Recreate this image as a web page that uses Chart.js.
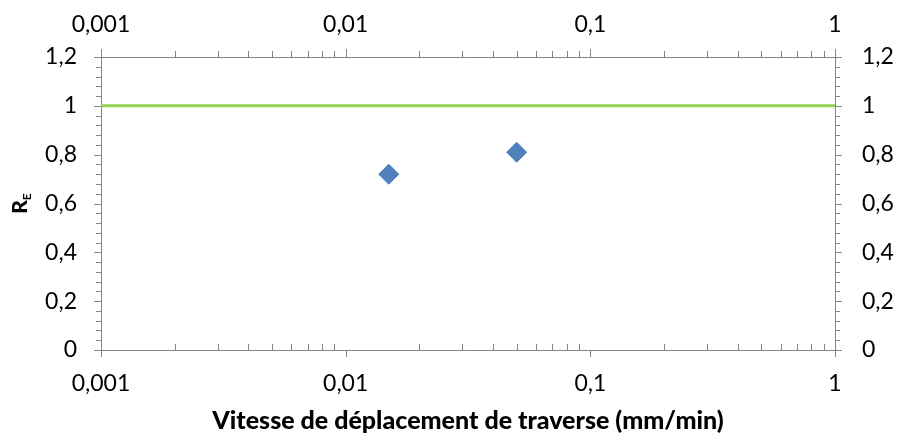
<!DOCTYPE html>
<html>
<head>
<meta charset="utf-8">
<script src="https://cdn.jsdelivr.net/npm/chart.js@4"></script>
<style>
  html, body { margin: 0; padding: 0; background: #fff; }
  #wrap { width: 898px; height: 438px; }
</style>
</head>
<body>
<div id="wrap"><canvas id="graf"></canvas></div>
<script>
// donnees
const vitesses = [0.015, 0.05];
const rapportsE = [0.72, 0.81];
const refX = [0.001, 1];
const refY = [1, 1];
const xTicks = [0.001, 0.01, 0.1, 1];
const xLabels = ["0,001", "0,01", "0,1", "1"];
const yTicks = [0, 0.2, 0.4, 0.6, 0.8, 1, 1.2];
const yLabels = ["0", "0,2", "0,4", "0,6", "0,8", "1", "1,2"];

const gris = "#868686";
const police = "Lato, 'Open Sans', sans-serif";

// petites marques des axes + titre R_E
const marques = {
  id: "marques",
  afterDraw(chart) {
    const ctx = chart.ctx;
    const a = chart.chartArea;
    const sx = chart.scales.x, sy = chart.scales.y;
    ctx.save();
    ctx.strokeStyle = gris;
    ctx.lineWidth = 1;
    ctx.beginPath();
    for (let d = 0; d < xTicks.length; d++) {
      const px = Math.round(sx.getPixelForValue(xTicks[d])) + 0.5;
      ctx.moveTo(px, a.bottom); ctx.lineTo(px, a.bottom + 7);
      ctx.moveTo(px, a.top - 8); ctx.lineTo(px, a.top);
      if (d === xTicks.length - 1) break;
      for (let k = 2; k <= 9; k++) {
        const pm = Math.round(sx.getPixelForValue(xTicks[d] * k)) + 0.5;
        ctx.moveTo(pm, a.bottom - 6); ctx.lineTo(pm, a.bottom);
        ctx.moveTo(pm, a.top - 6); ctx.lineTo(pm, a.top);
      }
    }
    for (let i = 0; i <= 30; i++) {
      const v = i * 0.04;
      const py = Math.round(sy.getPixelForValue(v)) + 0.5;
      const maj = i % 5 === 0;
      const l = maj ? 7 : 5;
      ctx.moveTo(a.left - l, py); ctx.lineTo(a.left, py);
      ctx.moveTo(a.right, py); ctx.lineTo(a.right + l, py);
    }
    ctx.stroke();

    // titre vertical R avec indice E
    ctx.fillStyle = "#000";
    ctx.translate(27, (a.top + a.bottom) / 2);
    ctx.rotate(-Math.PI / 2);
    ctx.textBaseline = "alphabetic";
    ctx.font = "900 21px " + police;
    const wR = ctx.measureText("R").width;
    ctx.font = "bold 12px " + police;
    const wE = ctx.measureText("E").width;
    const x0 = -(wR + wE) / 2;
    ctx.font = "900 21px " + police;
    ctx.fillText("R", x0, 0);
    ctx.font = "bold 12px " + police;
    ctx.fillText("E", x0 + wR, 4);
    ctx.restore();
  }
};

function axeX(position, hauteur, pad, titre) {
  return {
    type: "logarithmic",
    position: position,
    min: 0.001,
    max: 1,
    afterBuildTicks: s => { s.ticks = xTicks.map(v => ({ value: v })); },
    afterFit: s => { s.height = hauteur; },
    grid: { display: false, drawTicks: false },
    border: { display: true, color: gris, width: 1 },
    ticks: {
      padding: pad,
      autoSkip: false,
      maxRotation: 0,
      color: "#000",
      font: { family: police, size: 23 },
      callback: (v) => xLabels[xTicks.indexOf(v)] ?? ""
    },
    title: titre
  };
}

function axeY(position, largeur, pad) {
  return {
    type: "linear",
    position: position,
    min: 0,
    max: 1.2,
    afterBuildTicks: s => { s.ticks = yTicks.map(v => ({ value: v })); },
    afterFit: s => { s.width = largeur; },
    grid: { display: false, drawTicks: false },
    border: { display: true, color: gris, width: 1 },
    ticks: {
      padding: pad,
      color: "#000",
      font: { family: police, size: 23 },
      callback: (v) => yLabels[yTicks.indexOf(v)] ?? ""
    }
  };
}

new Chart(document.getElementById("graf"), {
  type: "scatter",
  data: {
    datasets: [
      {
        label: "Reference",
        data: refX.map((x, i) => ({ x: x, y: refY[i] })),
        showLine: true,
        borderColor: "#92D050",
        borderWidth: 3,
        pointRadius: 0,
        xAxisID: "x",
        yAxisID: "y"
      },
      {
        label: "R_E",
        data: vitesses.map((x, i) => ({ x: x, y: rapportsE[i] })),
        showLine: false,
        pointStyle: "rectRot",
        pointRadius: 10,
        pointBorderWidth: 1,
        backgroundColor: "#4F81BD",
        borderColor: "#4A7EBB",
        xAxisID: "x",
        yAxisID: "y"
      }
    ]
  },
  options: {
    responsive: true,
    maintainAspectRatio: false,
    animation: false,
    layout: { padding: 0 },
    plugins: {
      legend: { display: false },
      tooltip: { enabled: false }
    },
    scales: {
      x: axeX("bottom", 88, 20, {
        display: true,
        text: "Vitesse de déplacement de traverse (mm/min)",
        color: "#000",
        font: { family: police, size: 25, weight: "900" },
        padding: { top: 2, bottom: 2 }
      }),
      x2: axeX("top", 57, 19, { display: false }),
      y: axeY("left", 101, 24),
      y2: axeY("right", 63, 27)
    }
  },
  plugins: [marques]
});
</script>
</body>
</html>
